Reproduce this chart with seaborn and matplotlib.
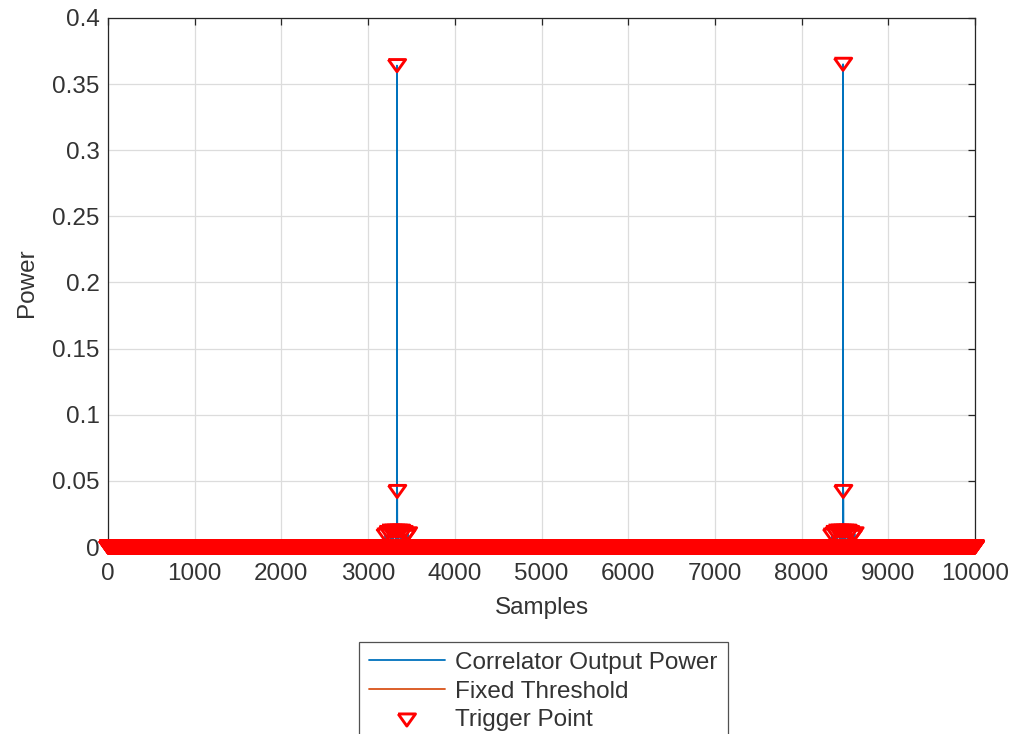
import numpy as np
import pandas as pd
import matplotlib
matplotlib.use("Agg")
import matplotlib.pyplot as plt
import seaborn as sns

# ---- data ----
n_samples = 10001
peak_samples = [3333, 8478]
peak_values = [0.364, 0.365]
side_samples = [3335, 8480]
side_values = [0.042, 0.042]
cluster1_samples = [3200, 3230, 3260, 3290, 3320, 3350, 3380, 3410, 3440, 3460]
cluster1_values = [0.009, 0.011, 0.012, 0.012, 0.012, 0.012, 0.012, 0.011, 0.008, 0.010]
cluster2_samples = [8350, 8380, 8410, 8440, 8470, 8500, 8530, 8560, 8590, 8610]
cluster2_values = [0.009, 0.011, 0.012, 0.012, 0.012, 0.012, 0.012, 0.011, 0.008, 0.010]
threshold_value = 0.0
x_ticks = [0, 1000, 2000, 3000, 4000, 5000, 6000, 7000, 8000, 9000, 10000]
y_ticks = [0, 0.05, 0.1, 0.15, 0.2, 0.25, 0.3, 0.35, 0.4]
y_tick_labels = ["0", "0.05", "0.1", "0.15", "0.2", "0.25", "0.3", "0.35", "0.4"]

samples = np.arange(n_samples)
power = np.zeros(n_samples)
for s, v in zip(cluster1_samples + cluster2_samples, cluster1_values + cluster2_values):
    power[s] = v
for s, v in zip(side_samples, side_values):
    power[s] = v
for s, v in zip(peak_samples, peak_values):
    power[s] = v
df = pd.DataFrame({"Samples": samples, "Power": power,
                   "Threshold": np.full(n_samples, threshold_value)})

sns.set_theme(style="white")
plt.rcParams["font.family"] = ["Liberation Sans", "DejaVu Sans"]

fig = plt.figure(figsize=(10.15, 7.34), dpi=100)
ax = fig.add_axes([108 / 1015, 1 - 547 / 734, 867 / 1015, 529 / 734])

blue = "#0072BD"
orange = "#D95319"
red = "#FF0000"
sns.lineplot(data=df, x="Samples", y="Power", ax=ax, color=blue, linewidth=1.3,
             label="Correlator Output Power", zorder=2)
sns.lineplot(data=df, x="Samples", y="Threshold", ax=ax, color=orange, linewidth=1.3,
             label="Fixed Threshold", zorder=2)
tri = [(-1.0, 0.7), (1.0, 0.7), (0.0, -0.7), (-1.0, 0.7)]
sns.scatterplot(data=df, x="Samples", y="Power", ax=ax, marker=tri, s=155,
                facecolors="none", edgecolor=red, linewidth=2.1, color=red,
                label="Trigger Point", zorder=3, clip_on=False)

ax.set_xlim(0, 10000)
ax.set_ylim(0, 0.4)
ax.set_xticks(x_ticks)
ax.set_xticklabels([str(t) for t in x_ticks])
ax.set_yticks(y_ticks)
ax.set_yticklabels(y_tick_labels)
ax.grid(True, color="#DCDCDC", linewidth=0.9)
ax.set_axisbelow(True)
txt = "#262626"
lbl = "#333333"
for sp in ax.spines.values():
    sp.set_visible(True)
    sp.set_color(txt)
    sp.set_linewidth(0.9)
ax.tick_params(axis="both", direction="in", length=5, width=0.9, color=txt,
               labelcolor=lbl, labelsize=17.5, top=True, right=True)
ax.tick_params(axis="x", pad=11.5)
ax.tick_params(axis="y", pad=6)
ax.set_xlabel("Samples", fontsize=17.5, color=lbl, labelpad=9)
ax.set_ylabel("Power", fontsize=17.5, color=lbl, labelpad=10)

ax.get_legend().remove()
h, l = ax.get_legend_handles_labels()
leg = fig.legend(h, l, loc="upper center", bbox_to_anchor=(543.5 / 1015, 1 - 642 / 734),
                 fontsize=17.5, frameon=True, fancybox=False, edgecolor=txt,
                 handlelength=3.1, handletextpad=0.45, borderpad=0.4, labelspacing=0.28,
                 borderaxespad=0, scatterpoints=1)
leg.get_frame().set_linewidth(0.9)
for t in leg.get_texts():
    t.set_color(lbl)

fig.savefig("out.png", dpi=100)
